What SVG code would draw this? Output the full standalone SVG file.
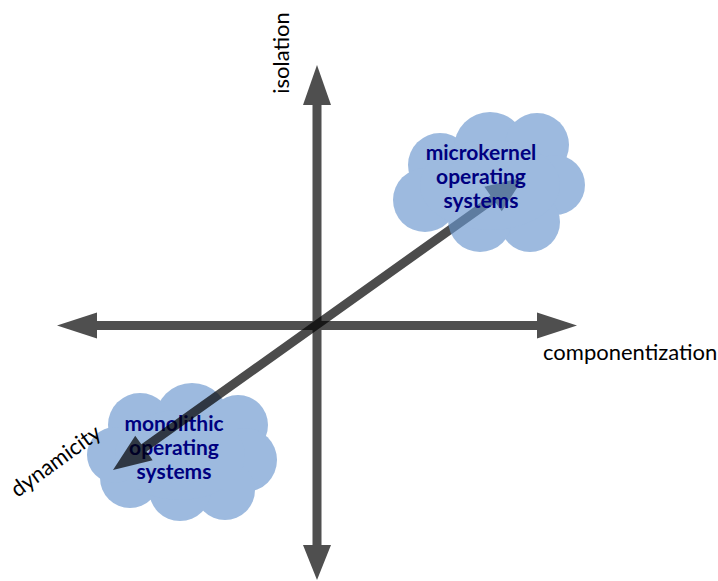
<svg xmlns="http://www.w3.org/2000/svg" width="718" height="581" viewBox="0 0 718 581">
<style>
.axis{fill:#4f4f4f}
.cloud{fill:#6996ce}
.ctext{font-family:Lato,"Liberation Sans",sans-serif;font-weight:bold;font-size:21px;fill:#000080;text-anchor:middle}
.label{font-family:Lato,"Liberation Sans",sans-serif;font-size:22px;fill:#000000}
</style>
<rect width="718" height="581" fill="#ffffff"/>
<g id="axes" class="axis">
<rect x="312.5" y="100" width="9" height="450"/>
<polygon points="317,65 331,105 303,105"/>
<polygon points="317,580 303,545 331,545"/>
<rect x="92" y="321" width="450" height="9"/>
<polygon points="57,325.5 97,312.5 97,338.5"/>
<polygon points="577,325.5 537,312.5 537,338.5"/>
</g>
<g id="monolithic">
<g opacity="0.65" class="cloud">
<circle cx="140" cy="425" r="32"/>
<circle cx="192" cy="420" r="37"/>
<circle cx="238" cy="425" r="30"/>
<circle cx="245" cy="460" r="32"/>
<circle cx="225" cy="490" r="30"/>
<circle cx="180" cy="490" r="31"/>
<circle cx="130" cy="478" r="30"/>
<circle cx="115" cy="455" r="28"/>
<ellipse cx="180" cy="455" rx="65" ry="45"/>
</g>
<text class="ctext" x="174" y="431">monolithic</text>
<text class="ctext" x="174" y="455">operating</text>
<text class="ctext" x="174" y="479">systems</text>
</g>
<g id="connectors">
<polygon opacity="0.7" fill="#000000" points="113,470 152.65,460.15 146.55,451.6 495.67,202.72 501.77,211.27 524,177 484.35,186.85 490.45,195.4 141.33,444.28 135.23,435.73"/>
</g>
<g id="microkernel">
<g opacity="0.65" class="cloud">
<circle cx="440" cy="165" r="32"/>
<circle cx="490" cy="148" r="36"/>
<circle cx="537" cy="145" r="32"/>
<circle cx="555" cy="185" r="30"/>
<circle cx="530" cy="222" r="30"/>
<circle cx="480" cy="220" r="32"/>
<circle cx="425" cy="200" r="32"/>
<ellipse cx="490" cy="185" rx="70" ry="45"/>
</g>
<text class="ctext" x="481" y="160">microkernel</text>
<text class="ctext" x="481" y="184">operating</text>
<text class="ctext" x="481" y="208">systems</text>
</g>
<g id="labels">
<text class="label" transform="translate(289,53) rotate(-90)" text-anchor="middle">isolation</text>
<text class="label" x="543" y="360">componentization</text>
<text class="label" transform="translate(60,467) rotate(-36)" text-anchor="middle">dynamicity</text>
</g>
</svg>
